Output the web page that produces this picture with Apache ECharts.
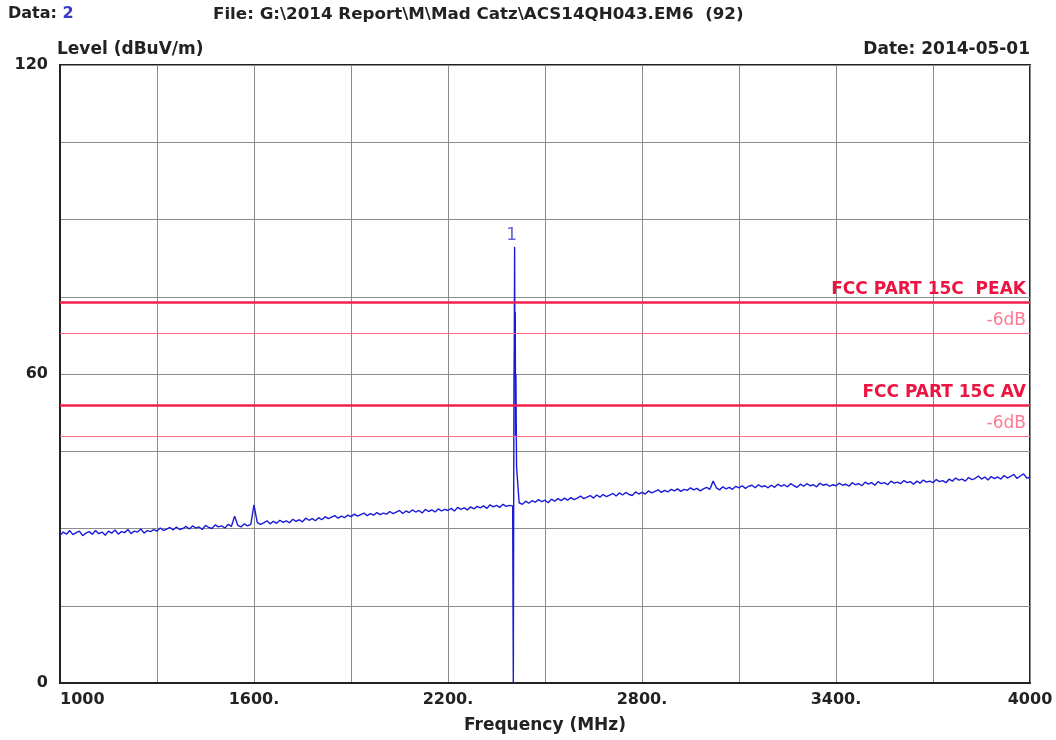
<!DOCTYPE html>
<html>
<head>
<meta charset="utf-8">
<script src="https://cdn.jsdelivr.net/npm/echarts@6/dist/echarts.min.js"></script>
<style>
html,body{margin:0;padding:0;background:#fff;}
#chart{width:1056px;height:740px;}
</style>
</head>
<body>
<div id="chart"></div>
<script>
// Measured trace: frequency (MHz)
const traceFreq = [
1000,1010,1020,1030,1040,1050,1060,1070,1080,1090,
1100,1110,1120,1130,1140,1150,1160,1170,1180,1190,
1200,1210,1220,1230,1240,1250,1260,1270,1280,1290,
1300,1310,1320,1330,1340,1350,1360,1370,1380,1390,
1400,1410,1420,1430,1440,1450,1460,1470,1480,1490,
1500,1510,1520,1530,1540,1550,1560,1570,1580,1590,
1600,1610,1620,1630,1640,1650,1660,1670,1680,1690,
1700,1710,1720,1730,1740,1750,1760,1770,1780,1790,
1800,1810,1820,1830,1840,1850,1860,1870,1880,1890,
1900,1910,1920,1930,1940,1950,1960,1970,1980,1990,
2000,2010,2020,2030,2040,2050,2060,2070,2080,2090,
2100,2110,2120,2130,2140,2150,2160,2170,2180,2190,
2200,2210,2220,2230,2240,2250,2260,2270,2280,2290,
2300,2310,2320,2330,2340,2350,2360,2370,2380,2390,
2400,2402,2403,2404,2405,2406,2407,2408,2409,2410,2412,
2420,2430,2440,2450,2460,2470,2480,2490,
2500,2510,2520,2530,2540,2550,2560,2570,2580,2590,
2600,2610,2620,2630,2640,2650,2660,2670,2680,2690,
2700,2710,2720,2730,2740,2750,2760,2770,2780,2790,
2800,2810,2820,2830,2840,2850,2860,2870,2880,2890,
2900,2910,2920,2930,2940,2950,2960,2970,2980,2990,
3000,3010,3020,3030,3040,3050,3060,3070,3080,3090,
3100,3110,3120,3130,3140,3150,3160,3170,3180,3190,
3200,3210,3220,3230,3240,3250,3260,3270,3280,3290,
3300,3310,3320,3330,3340,3350,3360,3370,3380,3390,
3400,3410,3420,3430,3440,3450,3460,3470,3480,3490,
3500,3510,3520,3530,3540,3550,3560,3570,3580,3590,
3600,3610,3620,3630,3640,3650,3660,3670,3680,3690,
3700,3710,3720,3730,3740,3750,3760,3770,3780,3790,
3800,3810,3820,3830,3840,3850,3860,3870,3880,3890,
3900,3910,3920,3930,3940,3950,3960,3970,3980,3990,
4000
];
// Measured trace: level (dBuV/m)
const traceLevel = [
28.7,29.3,28.9,29.6,28.8,29.2,29.5,28.6,29.1,29.4,
28.9,29.6,29.0,29.3,28.7,29.5,29.1,29.7,28.9,29.4,
29.2,29.8,29.0,29.5,29.3,29.9,29.1,29.6,29.4,29.8,
29.5,30.1,29.6,29.9,30.2,29.7,30.3,29.8,30.0,30.4,
29.9,30.5,30.1,30.3,29.8,30.6,30.2,30.0,30.7,30.3,
30.5,30.1,30.8,30.4,32.4,30.6,30.3,30.9,30.5,30.8,
34.6,31.2,30.8,31.1,31.5,30.9,31.4,31.0,31.6,31.2,
31.5,31.1,31.8,31.4,31.7,31.3,32.0,31.6,31.9,31.5,
32.1,31.7,32.3,31.9,32.2,32.5,32.0,32.4,32.1,32.6,
32.3,32.8,32.4,32.7,33.0,32.5,32.9,32.6,33.1,32.7,
33.0,32.8,33.3,32.9,33.2,33.5,32.9,33.4,33.1,33.6,
33.2,33.5,33.0,33.7,33.3,33.6,33.2,33.8,33.4,33.7,
33.5,33.9,33.4,34.1,33.7,34.0,33.6,34.2,33.8,34.3,
34.0,34.4,33.9,34.6,34.2,34.5,34.1,34.7,34.3,34.5,
34.4,0,30,58,66,84.7,62,72,48,60,42,
35.0,34.7,35.3,34.9,35.4,35.1,35.6,35.2,
35.5,35.0,35.7,35.3,35.8,35.4,35.9,35.5,36.0,35.6,
35.9,36.3,35.8,36.1,36.4,35.9,36.5,36.1,36.6,36.2,
36.5,36.8,36.3,36.9,36.5,37.0,36.6,36.4,37.1,36.7,
37.0,36.7,37.3,36.9,37.2,37.5,37.0,37.4,37.1,37.6,
37.3,37.7,37.2,37.6,37.4,37.9,37.5,37.8,37.3,37.7,
38.0,37.6,39.2,37.9,37.5,38.1,37.7,38.0,37.6,38.2,
37.9,38.3,37.8,38.2,38.4,37.9,38.5,38.1,38.3,37.9,
38.4,38.0,38.6,38.2,38.5,38.1,38.7,38.3,38.0,38.6,
38.2,38.7,38.3,38.5,38.1,38.8,38.4,38.6,38.2,38.5,
38.3,38.8,38.4,38.6,38.2,38.9,38.5,38.7,38.3,39.0,
38.6,38.9,38.4,39.1,38.7,38.9,38.5,39.2,38.8,39.0,
38.7,39.3,38.9,39.1,38.6,39.2,38.8,39.4,39.0,39.2,
38.9,39.5,39.1,39.3,38.9,39.6,39.2,39.8,39.4,39.6,
39.2,39.9,39.5,39.7,40.2,39.6,40.0,39.4,40.1,39.7,
40.0,39.6,40.3,39.8,40.1,40.5,39.7,40.2,40.6,39.8,
39.9
];
// Marker 1
const markerFreq = [2406];
const markerLevel = [84.7];
const markerNames = ['1'];
// Limit lines
const limitNames = ['FCC PART 15C  PEAK', '-6dB', 'FCC PART 15C AV', '-6dB'];
const limitLevels = [74, 68, 54, 48];
const limitMain = [true, false, true, false];
// Axis tick labels
const xTickValues = [1000, 1600, 2200, 2800, 3400, 4000];
const xTickLabels = ['1000', '1600.', '2200.', '2800.', '3400.', '4000'];
const yTickValues = [0, 60, 120];
const yTickLabels = ['0', '60', '120'];

const FONT = 'DejaVu Sans';
const traceData = traceFreq.map((f, i) => [f, traceLevel[i]]);
const markerData = markerFreq.map((f, i) => ({ value: [f, markerLevel[i]], name: markerNames[i] }));
const limitData = limitLevels.map((v, i) => ({
  yAxis: v,
  name: limitNames[i],
  lineStyle: limitMain[i] ? { color: '#f2204c', width: 2.5, type: 'solid' } : { color: '#ff6a86', width: 1, type: 'solid' },
  label: limitMain[i]
    ? { show: true, formatter: '{b}', position: 'insideEndTop', color: '#ec1440', fontFamily: FONT, fontWeight: 'bold', fontSize: 17, distance: 4 }
    : { show: true, formatter: '{b}', position: 'insideEndTop', color: '#ff7a92', fontFamily: FONT, fontWeight: 'normal', fontSize: 17, distance: 4 }
}));

const chart = echarts.init(document.getElementById('chart'));
chart.setOption({
  backgroundColor: '#ffffff',
  animation: false,
  title: [
    { text: '{a|Data: }{b|2}', left: 8, top: 6, padding: 0,
      textStyle: { rich: {
        a: { fontFamily: FONT, fontWeight: 'bold', fontSize: 16, color: '#222' },
        b: { fontFamily: FONT, fontWeight: 'bold', fontSize: 16, color: '#3a3ac8' } } } },
    { text: 'File: G:\\2014 Report\\M\\Mad Catz\\ACS14QH043.EM6  (92)', left: 213, top: 6, padding: 0,
      textStyle: { fontFamily: FONT, fontWeight: 'bold', fontSize: 16.7, color: '#222' } },
    { text: 'Level (dBuV/m)', left: 57, top: 41, padding: 0,
      textStyle: { fontFamily: FONT, fontWeight: 'bold', fontSize: 17, color: '#222' } },
    { text: 'Date: 2014-05-01', right: 26, top: 41, padding: 0,
      textStyle: { fontFamily: FONT, fontWeight: 'bold', fontSize: 17, color: '#222' } }
  ],
  grid: {
    left: 60, right: 26, top: 65, bottom: 57,
    show: true, borderColor: '#222', borderWidth: 2, backgroundColor: '#fff',
    containLabel: false, outerBoundsMode: 'none'
  },
  xAxis: {
    type: 'value', min: 1000, max: 4000, interval: 300,
    name: 'Frequency (MHz)', nameLocation: 'middle', nameGap: 34,
    nameTextStyle: { fontFamily: FONT, fontWeight: 'bold', fontSize: 17, color: '#222' },
    axisLine: { show: true, lineStyle: { color: '#222', width: 2 } },
    axisTick: { show: false },
    splitLine: { show: true, lineStyle: { color: '#8c8c8c', width: 1 } },
    axisLabel: {
      margin: 9, fontFamily: FONT, fontWeight: 'bold', fontSize: 16, color: '#222',
      alignMinLabel: 'left', alignMaxLabel: 'center',
      formatter: v => { const k = xTickValues.indexOf(v); return k >= 0 ? xTickLabels[k] : ''; }
    }
  },
  yAxis: {
    type: 'value', min: 0, max: 120, interval: 15,
    axisLine: { show: true, lineStyle: { color: '#222', width: 2 } },
    axisTick: { show: false },
    splitLine: { show: true, lineStyle: { color: '#8c8c8c', width: 1 } },
    axisLabel: {
      margin: 12, fontFamily: FONT, fontWeight: 'bold', fontSize: 16, color: '#222',
      formatter: v => { const k = yTickValues.indexOf(v); return k >= 0 ? yTickLabels[k] : ''; }
    }
  },
  series: [
    {
      type: 'line', data: traceData, showSymbol: false, silent: true,
      lineStyle: { color: '#1a1ad8', width: 1.4 },
      markLine: { symbol: 'none', silent: true, data: limitData }
    },
    {
      type: 'scatter', data: markerData, symbolSize: 0, silent: true,
      label: { show: true, formatter: '{b}', position: 'top', distance: 3, offset: [-3, 0],
        color: '#3a3ad0', fontFamily: FONT, fontSize: 17 }
    }
  ]
});
</script>
</body>
</html>
